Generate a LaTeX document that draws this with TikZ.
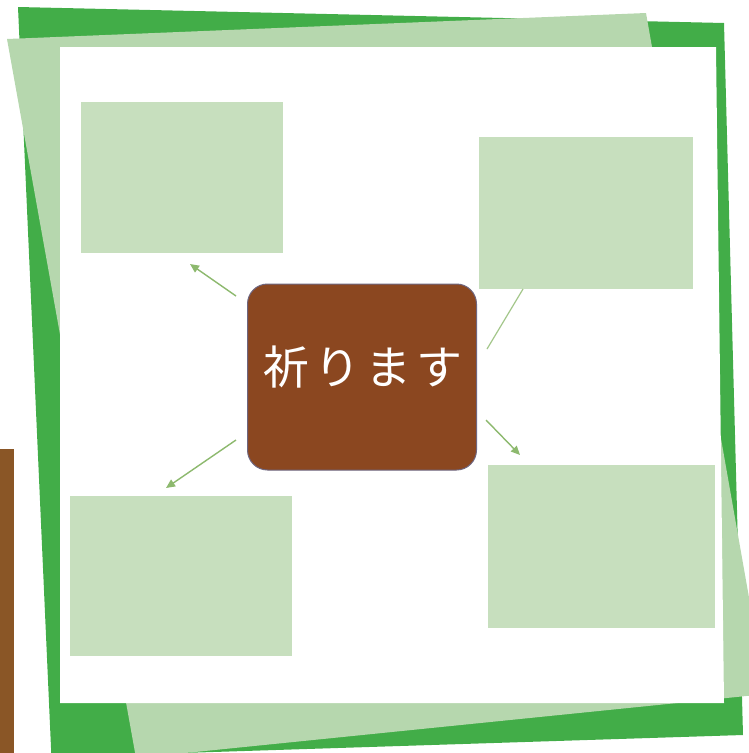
\documentclass[tikz,border=0pt]{standalone}
\usepackage{fontspec}
\newfontfamily\cjk{Noto Sans CJK JP}
\usetikzlibrary{arrows.meta}
\definecolor{darkgr}{HTML}{42AD48}
\definecolor{framegr}{HTML}{B6D7AE}
\definecolor{boxgr}{HTML}{C7DFBE}
\definecolor{brownc}{HTML}{8B4720}
\definecolor{barc}{HTML}{8A5626}
\definecolor{rimc}{HTML}{6E6680}
\definecolor{arrowc}{HTML}{8DB96E}
\begin{document}
\begin{tikzpicture}[x=1pt,y=-1pt,
  leaf/.style={fill=boxgr,draw=none,minimum width=#1,inner sep=0pt,anchor=north west},
  link/.style={draw=arrowc,line width=1.4pt,-{Triangle[length=9pt,width=8pt]}}]
\useasboundingbox (0,0) rectangle (749,753);
\clip (0,0) rectangle (749,753);
% frames
\fill[darkgr] (18,7) -- (724,23) -- (743,735) -- (182,753) -- (52,770) -- cycle;
\fill[framegr] (7,39) -- (646,13) -- (766,694) -- (136,758) -- cycle;
\fill[white] (60,47) -- (716,47) -- (724,703) -- (60,703) -- cycle;
\fill[barc] (0,449) rectangle (14,753);
% boxes
\node[leaf=202pt,minimum height=151pt] (tl) at (81,102) {};
\node[leaf=214pt,minimum height=152pt] (tr) at (479,137) {};
\node[leaf=222pt,minimum height=160pt] (bl) at (70,496) {};
\node[leaf=227pt,minimum height=163pt] (br) at (488,465) {};
% connectors
\coordinate (a1s) at (236,296); \coordinate (a1e) at (190,264);
\coordinate (a2s) at (236,440); \coordinate (a2e) at (166,488);
\coordinate (a3s) at (486,420); \coordinate (a3e) at (520,455);
\coordinate (a4s) at (487,349); \coordinate (a4e) at (523,289);
\draw[link] (a1s) -- (a1e);
\draw[link] (a2s) -- (a2e);
\draw[link] (a3s) -- (a3e);
\draw[draw=arrowc!80,line width=1.2pt] (a4s) -- (a4e);
% centre
\node[fill=brownc,draw=rimc,line width=1pt,rounded corners=20pt,
      minimum width=229pt,minimum height=186pt,inner sep=0pt] (c) at (362,377) {};
\node[text=white,font=\cjk\fontsize{46}{46}\selectfont,inner sep=0pt] (t) at (363,367)
  {祈\hspace{5pt}り\hspace{5pt}ま\hspace{5pt}す};
\end{tikzpicture}
\end{document}
